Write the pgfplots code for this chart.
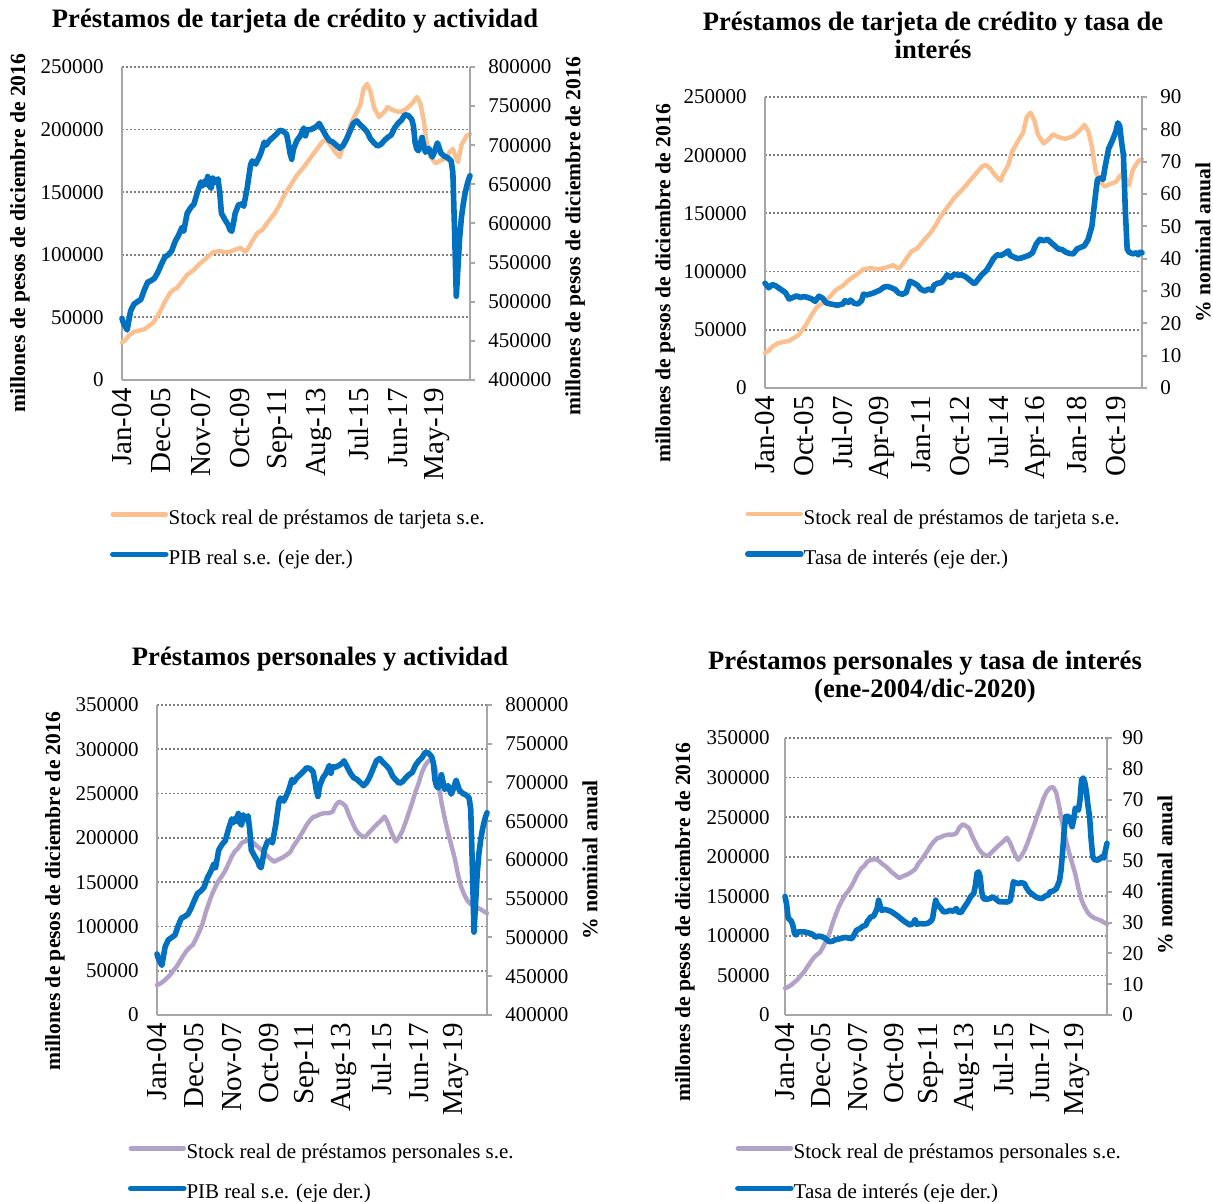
\documentclass[border=0pt]{standalone}
\usepackage{fontspec}
\setmainfont{Liberation Serif}
\usepackage{pgfplots}
\usepackage{pgfplotstable}
\pgfplotsset{compat=1.18}
\definecolor{cOrange}{HTML}{FAC090}
\definecolor{cBlue}{HTML}{0070C0}
\definecolor{cPurple}{HTML}{B3A2C7}
\definecolor{cAxis}{HTML}{A6A6A6}
\definecolor{cGrid}{HTML}{808080}

\pgfplotstableread{
m v
0 30000
2 32000
4 35500
7 38500
10 39500
13 40500
15 42500
18 45500
20 49500
22 54000
25 62500
28 69500
30 72000
32 73500
35 78500
38 84000
42 88000
45 92500
49 97000
53 102000
57 103000
60 102000
63 102500
66 104000
69 105500
72 102500
74 106000
76 111000
79 117500
82 120000
85 126000
89 133000
92 140000
94 146000
96 150500
99 157000
102 163500
106 170000
110 177500
114 185000
117 190500
119 191500
121 189000
124 182500
127 178000
128 183000
131 191500
133 203000
136 211500
139 219500
141 233000
143 236500
145 230000
147 217500
150 210000
153 214000
155 218000
158 215500
162 214000
166 216500
169 220500
172 226000
174 221000
176 207500
178 186500
180 178000
183 173000
186 175500
189 177000
191 182000
193 184500
195 177000
196 174000
198 187500
201 195000
203 196500
}\tarjeta

\pgfplotstableread{
m v
0 478700
1 472000
3 464000
5 488000
7 497000
9 500000
11 503000
13 515000
15 525000
17 527000
19 530000
21 538000
23 548000
25 557000
27 560000
29 565000
31 577000
33 585000
35 595000
36 590000
38 613000
40 620000
42 625000
44 640000
46 653000
47 648000
48 654000
49 650000
50 660000
51 648000
52 645000
53 658000
54 652000
56 657000
57 640000
58 613000
60 605000
62 598000
63 592000
64 590000
65 600000
66 613000
68 624000
70 625000
71 622000
73 645000
75 675000
76 680000
78 676000
80 685000
81 690000
83 704000
84 700000
86 706000
88 710000
90 714000
92 719000
94 718000
96 714000
97 703000
98 690000
99 682000
100 695000
102 706000
104 712000
106 722000
107 712000
108 720000
110 720000
112 722000
114 725000
115 728000
117 720000
119 712000
121 706000
123 704000
125 700000
127 696000
129 700000
131 708000
133 718000
135 728000
137 731000
139 726000
141 722000
143 717000
145 708000
147 703000
149 699000
151 701000
153 706000
155 710000
157 713000
159 722000
161 728000
163 732000
165 739000
167 738000
169 733000
170 725000
171 703000
172 695000
173 693000
175 710000
176 700000
177 691000
179 696000
181 685000
182 690000
184 703000
186 690000
188 686000
190 684000
192 680000
193 665000
194 590000
195 507000
196 545000
197 583000
198 608000
199 624000
200 637000
201 647000
202 655000
203 661000
}\pib

\pgfplotstableread{
m v
0 32.4
2 31.0
4 32.0
6 31.5
9 30.3
11 29.5
13 27.5
15 28.0
17 28.5
19 28.0
21 28.3
23 28.0
25 27.6
27 26.8
29 28.4
31 27.8
33 26.3
36 25.9
39 25.6
42 26.0
43 27.0
45 26.5
46 27.2
48 26.2
50 26.0
52 27.0
53 29.0
55 28.8
58 29.3
60 29.8
62 30.3
64 31.2
66 31.4
68 31.0
70 30.5
72 29.3
74 29.0
76 29.5
78 33.0
80 32.5
82 31.8
84 30.5
86 30.0
88 30.6
90 30.2
91 31.8
93 32.4
95 32.6
97 34.0
98 35.0
100 34.2
102 35.2
104 34.9
106 35.0
108 34.4
110 33.5
112 32.5
113 32.3
115 33.8
117 35.2
119 36.2
121 38.0
123 40.0
125 41.2
127 41.0
129 41.6
131 42.4
132 41.0
134 40.5
136 40.0
138 40.2
140 40.6
142 41.0
144 41.8
146 44.5
148 46.0
150 45.5
152 46.0
154 45.0
156 44.0
158 43.0
160 42.8
162 42.0
164 41.6
166 41.5
168 43.0
170 43.5
172 44.0
174 46.0
176 50.0
177 55.0
178 60.0
179 64.5
181 65.0
182 64.5
183 68.0
185 74.0
187 76.5
189 79.5
190 82.0
191 81.0
192 76.0
193 72.0
194 55.0
195 43.0
196 42.0
198 41.5
200 41.8
201 41.2
202 42.0
203 41.8
}\tasaT

\pgfplotstableread{
m v
0 33800
2 35500
4 38000
6 41500
8 45000
10 50000
12 54500
14 60500
16 66500
18 72000
20 76000
22 79000
24 86000
26 94000
28 103000
30 116000
32 127000
34 137000
36 145000
38 152000
40 157000
42 163000
44 171000
46 179000
48 185000
50 188500
52 194000
54 196000
57 197000
59 195000
61 191500
64 187000
67 181000
70 176000
72 173000
74 175000
77 177500
80 181000
82 184000
84 191000
86 196000
88 202000
90 208000
92 214500
94 219500
96 223500
98 224500
100 226500
103 228000
106 228000
108 229500
110 237000
112 241000
114 239000
116 236000
118 226000
120 218000
122 210000
124 205000
126 202000
128 201000
130 205000
132 209000
134 213000
136 216500
138 220000
140 224000
142 217000
144 207000
146 199000
147 196000
149 201000
151 208000
153 218000
155 229000
157 240000
159 252000
161 262000
163 274000
165 282000
167 287000
169 288000
171 281000
173 262000
175 240000
177 222000
179 206000
181 192000
183 178000
185 160000
187 145000
189 136000
191 129000
193 125000
195 122500
197 121000
199 119500
201 117000
203 115000
}\personal

\pgfplotstableread{
m v
0 38.5
1 36.0
2 31.5
3 31.0
4 30.5
5 29.0
6 26.5
7 26.0
8 27.0
10 27.0
12 27.0
14 26.8
16 26.5
18 26.0
19 25.3
21 25.6
23 25.5
25 25.0
26 24.6
28 23.8
30 24.0
32 24.5
34 24.7
36 25.0
38 25.2
40 25.0
42 24.8
43 25.5
45 27.5
47 28.0
49 28.8
51 29.2
52 30.5
54 31.8
56 32.2
58 34.5
59 37.3
60 35.5
61 34.0
63 34.3
65 34.0
67 33.6
69 32.9
71 32.2
73 31.3
75 30.5
77 29.8
79 29.2
81 30.0
82 31.0
83 29.5
85 29.7
88 29.6
90 29.8
92 30.5
93 31.3
94 34.5
95 37.3
96 36.0
98 34.8
100 33.5
102 33.6
104 34.0
106 33.7
108 34.6
109 33.5
111 33.3
113 35.0
115 36.5
117 38.4
119 39.5
120 42.0
121 46.0
122 46.5
123 45.0
124 40.0
125 37.8
127 37.6
129 37.8
131 38.4
133 37.6
135 36.8
137 36.8
140 36.7
142 37.2
143 40.0
144 43.3
145 43.0
147 42.7
149 43.0
151 42.7
152 41.5
154 40.0
156 39.2
158 38.4
160 38.0
162 37.8
164 38.6
166 39.0
167 40.0
169 40.3
171 41.0
173 43.5
174 47.0
175 53.0
176 60.0
177 64.5
179 64.5
181 61.2
182 63.5
183 67.2
185 66.6
186 70.0
187 76.5
188 77.0
189 75.5
190 72.5
191 68.0
192 64.5
193 57.0
194 51.5
195 50.5
197 50.3
199 50.9
200 51.5
201 51.0
202 53.5
203 55.8
}\tasaP

\pgfplotsset{
  lineO/.style={draw=cOrange, line width=2.2pt, line join=round, line cap=round, no markers},
  lineB/.style={draw=cBlue, line width=2.8pt, line join=round, line cap=round, no markers},
  lineP/.style={draw=cPurple, line width=2.2pt, line join=round, line cap=round, no markers},
  common/.style={
    scale only axis, xmin=0, xmax=203, clip=false,
    scaled y ticks=false, scaled x ticks=false,
    axis line style={draw=cAxis, line width=1pt},
    tick label style={font=\fontsize{10.5}{12}\selectfont},
  },
  myleft/.style={
    common,
    axis x line*=bottom, axis y line*=left,
    tick style={draw=none}, major tick length=0pt,
    ymajorgrids,
    major grid style={draw=cGrid, line width=0.9pt, dash pattern=on 0.9pt off 1.1pt},
    yticklabel style={inner sep=0pt, anchor=east},
    xticklabel style={rotate=90, anchor=east, inner sep=0pt, font=\fontsize{14.5}{15}\selectfont},
    yticklabel shift=9pt, xticklabel shift=4pt,
  },
  myright/.style={
    common,
    axis x line=none, axis y line*=right, xtick=\empty,
    ytick style={draw=cAxis, line width=1pt},
    tick align=outside, major tick length=2.5pt,
    yticklabel style={inner sep=0pt, anchor=west},
    yticklabel shift=6.5pt,
    legend cell align=left,
    legend image code/.code={\draw[##1] (0pt,2.6pt) -- (26.5pt,2.6pt);},
    legend style={draw=none, fill=none, inner sep=0pt, outer sep=0pt,
      column sep=0pt, row sep=10pt, anchor=north west,
      nodes={inner sep=0pt, text height=7.5pt, text depth=2.5pt,
        font=\fontsize{10.5}{12}\selectfont}},
  },
  ylab/.style 2 args={every axis y label/.style={at={(axis description cs:#1,#2)},
      rotate=90, anchor=center, font=\bfseries\fontsize{10.8}{13}\selectfont}},
}

\begin{document}
\begin{tikzpicture}
\path[use as bounding box] (0pt,0pt) rectangle (606.5pt,601pt);

% ---------- Panel 1
\node[font=\bfseries\fontsize{13.3}{14}\selectfont] at (147.5pt,590.5pt)
  {Préstamos de tarjeta de crédito y actividad};
\begin{axis}[myleft, at={(61pt,411pt)}, anchor=south west,
  width=174pt, height=156.5pt, ymin=0, ymax=250000,
  ytick={0,50000,100000,150000,200000,250000},
  yticklabels={0,50000,100000,150000,200000,250000},
  xtick={0,23,46,69,92,115,138,161,184},
  xticklabels={Jan-04,Dec-05,Nov-07,Oct-09,Sep-11,Aug-13,Jul-15,Jun-17,May-19},
  ylab={-0.293}{0.47}, ylabel={millones de pesos de diciembre de 2016}]
\addplot[lineO] table[x=m,y=v] {\tarjeta};
\end{axis}
\begin{axis}[myright, at={(61pt,411pt)}, anchor=south west,
  width=174pt, height=156.5pt, ymin=400000, ymax=800000,
  ytick={400000,450000,500000,550000,600000,650000,700000,750000,800000},
  yticklabels={400000,450000,500000,550000,600000,650000,700000,750000,800000},
  ylab={1.302}{0.46}, ylabel={millones de pesos de diciembre de 2016},
  legend style={at={(axis description cs:-0.0345,-0.414)}}]
\addlegendimage{lineO}
\addlegendentry{Stock real de préstamos de tarjeta s.e.}
\addplot[lineB] table[x=m,y=v] {\pib};
\addlegendentry{PIB real s.e. (eje der.)}
\end{axis}

% ---------- Panel 2
\node[font=\bfseries\fontsize{13.3}{14}\selectfont, align=center] at (466.5pt,583.5pt)
  {Préstamos de tarjeta de crédito y tasa de\\interés};
\begin{axis}[myleft, at={(382.5pt,407pt)}, anchor=south west,
  width=188.5pt, height=145.5pt, ymin=0, ymax=250000,
  ytick={0,50000,100000,150000,200000,250000},
  yticklabels={0,50000,100000,150000,200000,250000},
  xtick={0,21,42,63,84,105,126,147,168,189},
  xticklabels={Jan-04,Oct-05,Jul-07,Apr-09,Jan-11,Oct-12,Jul-14,Apr-16,Jan-18,Oct-19},
  ylab={-0.265}{0.36}, ylabel={millones de pesos de diciembre de 2016}]
\addplot[lineO] table[x=m,y=v] {\tarjeta};
\end{axis}
\begin{axis}[myright, at={(382.5pt,407pt)}, anchor=south west,
  width=188.5pt, height=145.5pt, ymin=0, ymax=90,
  ytick={0,10,20,30,40,50,60,70,80,90},
  yticklabels={0,10,20,30,40,50,60,70,80,90},
  ylab={1.162}{0.5}, ylabel={\% nominal anual},
  legend style={at={(axis description cs:-0.053,-0.417)}}]
\addlegendimage{lineO}
\addlegendentry{Stock real de préstamos de tarjeta s.e.}
\addplot[lineB] table[x=m,y=v] {\tasaT};
\addlegendentry{Tasa de interés (eje der.)}
\end{axis}

% ---------- Panel 3
\node[font=\bfseries\fontsize{13.3}{14}\selectfont] at (160pt,271.5pt)
  {Préstamos personales y actividad};
\begin{axis}[myleft, at={(78.5pt,93.5pt)}, anchor=south west,
  width=165pt, height=155pt, ymin=0, ymax=350000,
  ytick={0,50000,100000,150000,200000,250000,300000,350000},
  yticklabels={0,50000,100000,150000,200000,250000,300000,350000},
  xtick={0,23,46,69,92,115,138,161,184},
  xticklabels={Jan-04,Dec-05,Nov-07,Oct-09,Sep-11,Aug-13,Jul-15,Jun-17,May-19},
  ylab={-0.309}{0.40}, ylabel={millones de pesos de diciembre de 2016}]
\addplot[lineP] table[x=m,y=v] {\personal};
\end{axis}
\begin{axis}[myright, at={(78.5pt,93.5pt)}, anchor=south west,
  width=165pt, height=155pt, ymin=400000, ymax=800000,
  ytick={400000,450000,500000,550000,600000,650000,700000,750000,800000},
  yticklabels={400000,450000,500000,550000,600000,650000,700000,750000,800000},
  ylab={1.312}{0.5}, ylabel={\% nominal anual},
  legend style={at={(axis description cs:-0.088,-0.415)}}]
\addlegendimage{lineP}
\addlegendentry{Stock real de préstamos personales s.e.}
\addplot[lineB] table[x=m,y=v] {\pib};
\addlegendentry{PIB real s.e. (eje der.)}
\end{axis}

% ---------- Panel 4
\node[font=\bfseries\fontsize{13.3}{14}\selectfont, align=center] at (462.5pt,262.5pt)
  {Préstamos personales y tasa de interés\\(ene-2004/dic-2020)};
\begin{axis}[myleft, at={(392.5pt,93.5pt)}, anchor=south west,
  width=161pt, height=138.5pt, ymin=0, ymax=350000,
  ytick={0,50000,100000,150000,200000,250000,300000,350000},
  yticklabels={0,50000,100000,150000,200000,250000,300000,350000},
  yticklabel shift=7.5pt,
  xtick={0,23,46,69,92,115,138,161,184},
  xticklabels={Jan-04,Dec-05,Nov-07,Oct-09,Sep-11,Aug-13,Jul-15,Jun-17,May-19},
  ylab={-0.311}{0.336}, ylabel={millones de pesos de diciembre de 2016}]
\addplot[lineP] table[x=m,y=v] {\personal};
\end{axis}
\begin{axis}[myright, at={(392.5pt,93.5pt)}, anchor=south west,
  width=161pt, height=138.5pt, ymin=0, ymax=90,
  ytick={0,10,20,30,40,50,60,70,80,90},
  yticklabels={0,10,20,30,40,50,60,70,80,90},
  yticklabel shift=5pt,
  ylab={1.18}{0.505}, ylabel={\% nominal anual},
  legend style={at={(axis description cs:-0.155,-0.464)}}]
\addlegendimage{lineP}
\addlegendentry{Stock real de préstamos personales s.e.}
\addplot[lineB] table[x=m,y=v] {\tasaP};
\addlegendentry{Tasa de interés (eje der.)}
\end{axis}
\end{tikzpicture}
\end{document}
